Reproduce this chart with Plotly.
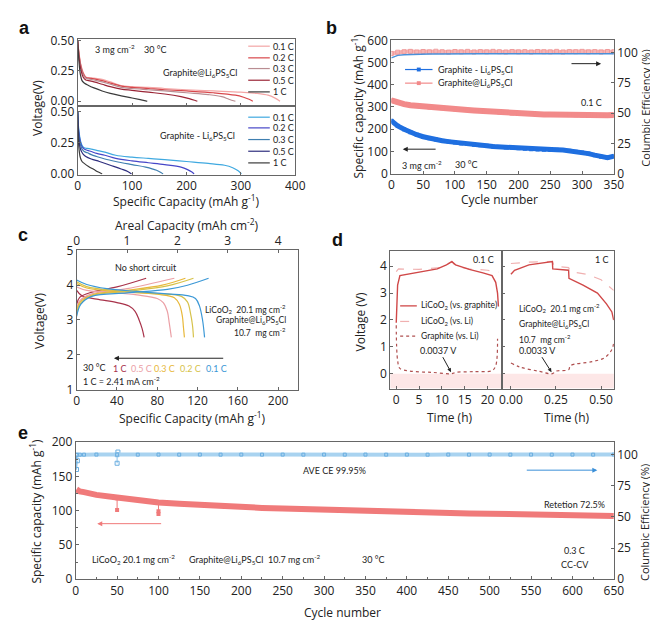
import plotly.graph_objects as go

W, H = 658, 622
def PX(x): return x / W
def PY(y): return 1 - y / H

# ---------------- Panel a data ----------------
a_rates = ["0.1 C", "0.2 C", "0.3 C", "0.5 C", "1 C"]
a_top_colors = ["#f3a5a5", "#d8474b", "#b98d92", "#9a2536", "#3b3b3b"]
a_bot_colors = ["#3fa9e0", "#4646c8", "#3f7fb0", "#2e2e7e", "#3b3b3b"]

a_top_x = [
    [0, 3, 6, 10, 15, 20, 30, 45, 60, 80, 100, 130, 160, 200, 250, 300, 330, 350, 362, 372],
    [0, 3, 6, 10, 15, 20, 30, 45, 60, 80, 100, 130, 160, 200, 250, 290, 305, 315, 322],
    [0, 3, 6, 10, 15, 20, 30, 45, 60, 80, 100, 130, 160, 200, 240, 265, 278, 290],
    [0, 3, 6, 10, 15, 20, 30, 45, 60, 80, 100, 130, 160, 190, 205, 215, 220],
    [0, 2, 5, 8, 12, 20, 30, 45, 60, 80, 100, 115, 125, 128],
]
a_top_y = [
    [0.5, 0.38, 0.3, 0.24, 0.2, 0.195, 0.19, 0.18, 0.16, 0.13, 0.12, 0.115, 0.105, 0.095, 0.085, 0.075, 0.065, 0.05, 0.028, 0.0],
    [0.5, 0.37, 0.29, 0.23, 0.195, 0.19, 0.185, 0.17, 0.15, 0.125, 0.115, 0.105, 0.095, 0.085, 0.07, 0.05, 0.033, 0.016, 0.0],
    [0.5, 0.36, 0.28, 0.22, 0.19, 0.185, 0.175, 0.16, 0.14, 0.115, 0.105, 0.095, 0.085, 0.07, 0.055, 0.038, 0.017, 0.0],
    [0.5, 0.34, 0.26, 0.2, 0.175, 0.17, 0.16, 0.14, 0.12, 0.1, 0.09, 0.075, 0.06, 0.038, 0.022, 0.008, 0.0],
    [0.5, 0.35, 0.22, 0.17, 0.15, 0.13, 0.11, 0.085, 0.065, 0.045, 0.027, 0.013, 0.003, 0.0],
]
a_bot_x = [
    [0, 2, 5, 8, 12, 18, 25, 35, 50, 70, 100, 130, 160, 200, 240, 270, 285, 295, 301],
    [0, 2, 5, 8, 12, 18, 25, 35, 50, 70, 100, 130, 160, 190, 202, 210, 214],
    [0, 2, 5, 8, 12, 18, 25, 35, 50, 70, 100, 125, 145, 153, 157],
    [0, 2, 4, 7, 10, 15, 25, 40, 60, 80, 92, 99],
    [0, 1, 3, 5, 8, 12, 20, 30, 38, 45],
]
a_bot_y = [
    [0.5, 0.36, 0.27, 0.23, 0.21, 0.205, 0.2, 0.19, 0.175, 0.15, 0.135, 0.125, 0.115, 0.1, 0.085, 0.07, 0.05, 0.025, 0.0],
    [0.5, 0.34, 0.26, 0.22, 0.2, 0.19, 0.18, 0.165, 0.15, 0.125, 0.105, 0.09, 0.075, 0.055, 0.035, 0.015, 0.0],
    [0.5, 0.32, 0.24, 0.2, 0.18, 0.17, 0.155, 0.14, 0.12, 0.1, 0.075, 0.055, 0.03, 0.012, 0.0],
    [0.5, 0.3, 0.22, 0.18, 0.16, 0.14, 0.12, 0.1, 0.07, 0.04, 0.02, 0.0],
    [0.5, 0.3, 0.18, 0.13, 0.1, 0.085, 0.06, 0.035, 0.015, 0.0],
]

# ---------------- Panel b data ----------------
b_cycles = [0, 10, 20, 30, 40, 50, 60, 70, 80, 90, 100, 110, 120, 130, 140, 150, 160, 170,
            180, 190, 200, 210, 220, 230, 240, 250, 260, 270, 280, 290, 300, 310, 320, 330, 340, 350]
b_cap_blue = [238, 215, 200, 186, 175, 166, 159, 153, 148, 144, 140, 136, 133, 130, 128, 125, 122, 120,
              118, 116, 114, 112, 110, 108, 107, 106, 107, 106, 103, 98, 95, 90, 83, 76, 72, 78]
b_cap_red = [330, 320, 313, 308, 305, 301, 298, 296, 294, 292, 290, 288, 286, 284, 282, 280, 277, 275,
             273, 271, 270, 269, 268, 267, 266, 266, 265, 265, 264, 263, 262, 262, 263, 263, 263, 264]
b_ce_blue = [95.5, 97.6, 98.2, 98.5, 98.6, 98.7, 98.8, 98.8, 98.9, 98.9, 98.9, 98.9, 99.0, 98.9, 99.0, 98.9, 99.0, 98.9,
             99.0, 98.9, 99.0, 99.0, 98.9, 99.0, 99.0, 98.9, 99.0, 99.0, 98.9, 99.0, 98.9, 99.0, 99.0, 98.9, 99.0, 98.9]
b_ce_red = [99.2, 100.2, 100.6, 100.9, 100.4, 100.8, 100.5, 101.0, 100.6, 100.3, 100.8, 100.5, 100.9, 100.4, 100.7, 100.5, 100.9, 100.6,
            100.4, 100.8, 100.5, 100.7, 100.4, 100.8, 100.6, 100.5, 100.9, 100.4, 100.7, 100.6, 100.9, 100.5, 100.7, 100.4, 100.8, 100.6]

# ---------------- Panel c data ----------------
c_rates = ["1 C", "0.5 C", "0.3 C", "0.2 C", "0.1 C"]
c_colors = ["#a8324a", "#eba0a6", "#e8b83a", "#d6c24a", "#3b98d6"]
c_dis_x = [
    [0, 5, 20, 40, 52, 58, 62, 65, 67],
    [0, 10, 30, 60, 80, 86, 90, 92, 94],
    [0, 10, 40, 80, 97, 102, 105, 106, 107],
    [0, 10, 40, 80, 104, 110, 113, 115, 116],
    [0, 10, 30, 60, 90, 110, 118, 122, 125, 127],
]
c_dis_y = [
    [3.85, 3.7, 3.6, 3.5, 3.4, 3.25, 3.0, 2.75, 2.5],
    [3.95, 3.85, 3.8, 3.72, 3.62, 3.5, 3.25, 2.9, 2.5],
    [4.05, 3.92, 3.82, 3.74, 3.64, 3.45, 3.1, 2.8, 2.5],
    [4.1, 3.96, 3.84, 3.76, 3.68, 3.52, 3.2, 2.85, 2.5],
    [4.15, 4.02, 3.9, 3.82, 3.75, 3.7, 3.62, 3.4, 3.0, 2.5],
]
c_chg_x = [
    [0, 3, 15, 40, 69],
    [0, 3, 15, 50, 97],
    [0, 3, 15, 50, 85, 108],
    [0, 3, 15, 50, 90, 116],
    [0, 4, 15, 50, 90, 110, 131],
]
c_chg_y = [
    [3.45, 3.65, 3.8, 3.95, 4.2],
    [3.3, 3.55, 3.75, 3.9, 4.2],
    [3.2, 3.5, 3.72, 3.85, 4.0, 4.2],
    [3.15, 3.45, 3.7, 3.82, 3.98, 4.2],
    [3.1, 3.45, 3.68, 3.78, 3.88, 4.0, 4.2],
]

# ---------------- Panel d data ----------------
d1_t = [0, 0.3, 0.8, 3, 6, 9, 11, 12.2, 13, 16, 19, 21, 21.8, 22.2, 22.4]
d1_full = [1.9, 3.3, 3.65, 3.72, 3.8, 3.9, 4.05, 4.17, 4.05, 3.88, 3.75, 3.65, 3.4, 3.0, 2.5]
d1_tl = [0, 0.5, 5, 10, 12.2, 13, 16, 20, 22.4]
d1_li = [3.8, 3.9, 3.88, 3.95, 4.18, 4.0, 3.9, 3.85, 3.78]
d1_tg = [0, 0.3, 0.8, 3, 8, 12.2, 13, 17, 21, 21.8, 22.2]
d1_gr = [1.8, 0.5, 0.2, 0.1, 0.05, 0.0037, 0.05, 0.08, 0.12, 0.3, 1.3]

d2_t = [0, 0.02, 0.1, 0.23, 0.232, 0.32, 0.322, 0.4, 0.48, 0.53, 0.56, 0.57]
d2_full = [3.7, 3.85, 4.05, 4.17, 3.9, 3.85, 3.55, 3.3, 3.0, 2.6, 2.3, 2.0]
d2_tl = [0, 0.1, 0.23, 0.24, 0.32, 0.33, 0.42, 0.5, 0.57]
d2_li = [4.1, 4.15, 4.18, 4.0, 3.95, 3.8, 3.7, 3.5, 3.1]
d2_tg = [0, 0.05, 0.15, 0.23, 0.25, 0.32, 0.33, 0.45, 0.52, 0.56, 0.57]
d2_gr = [0.4, 0.25, 0.1, 0.0033, 0.1, 0.15, 0.3, 0.45, 0.6, 0.9, 1.15]

# ---------------- Panel e data ----------------
e_cycles = [1, 5, 10, 25, 50, 75, 100, 125, 150, 175, 200, 225, 250, 275, 300, 325,
            350, 375, 400, 425, 450, 475, 500, 525, 550, 575, 600, 625, 650]
e_cap = [131, 128, 127, 123, 119, 115, 112, 110, 108, 107, 105, 104, 103, 102, 101, 100,
         99, 98.5, 98, 97, 96.5, 96, 95.5, 95, 94.5, 94, 93.5, 92.5, 92]
e_ce = [99.6, 99.9, 99.9, 99.95, 99.9, 99.9, 99.95, 99.9, 99.95, 99.9, 99.95, 99.9, 99.95,
        99.9, 99.95, 99.9, 99.95, 99.9, 99.95, 99.9, 99.95, 99.9, 99.95, 99.9, 99.95, 99.9, 99.95, 99.9, 99.95]
# outlier cycles (interrupted tests)
e_out_cycles = [50, 50, None, 100, 100, 100]
e_out_cap = [118, 101, None, 111, 99, 95]
e_out_ce_cycles = [1, 1, 2, None, 50, 50, 51]
e_out_ce = [99.6, 88, 95, None, 93, 99.9, 102]

# ---------------- Figure ----------------
TICKF = dict(family="Open Sans", size=12, color="#222")
SMALL = "Lato"
LC = "#666"

def ax(**kw):
    d = dict(showline=True, mirror=True, linecolor=LC, linewidth=1, ticks="inside", ticklen=3,
             tickcolor=LC, showgrid=False, zeroline=False, tickfont=TICKF)
    d.update(kw)
    return d

fig = go.Figure()

# panel a
for i in range(5):
    fig.add_trace(go.Scatter(x=a_top_x[i], y=a_top_y[i], mode="lines", line=dict(color=a_top_colors[i], width=1.2, shape="spline"),
                             xaxis="x", yaxis="y", showlegend=False))
    fig.add_trace(go.Scatter(x=a_bot_x[i], y=a_bot_y[i], mode="lines", line=dict(color=a_bot_colors[i], width=1.2, shape="spline"),
                             xaxis="x2", yaxis="y2", showlegend=False))

# panel b
fig.add_trace(go.Scatter(x=b_cycles, y=b_ce_red, mode="lines+markers", xaxis="x3", yaxis="y4",
                         line=dict(color="#f6b4b4", width=4), marker=dict(symbol="square-open", size=4, color="#f09a9a"), showlegend=False))
fig.add_trace(go.Scatter(x=b_cycles, y=b_ce_blue, mode="lines", xaxis="x3", yaxis="y4",
                         line=dict(color="#4a90d9", width=1.5), showlegend=False))
fig.add_trace(go.Scatter(x=b_cycles, y=b_cap_red, mode="lines+markers", xaxis="x3", yaxis="y3",
                         line=dict(color="#f28a8a", width=6), marker=dict(symbol="square", size=4, color="#f28a8a"), showlegend=False))
fig.add_trace(go.Scatter(x=b_cycles, y=b_cap_blue, mode="lines+markers", xaxis="x3", yaxis="y3",
                         line=dict(color="#1f6fe0", width=5), marker=dict(symbol="square", size=4, color="#1f6fe0"), showlegend=False))

# panel c
for i in range(5):
    fig.add_trace(go.Scatter(x=c_dis_x[i], y=c_dis_y[i], mode="lines", line=dict(color=c_colors[i], width=1.2, shape="spline"),
                             xaxis="x4", yaxis="y5", showlegend=False))
    fig.add_trace(go.Scatter(x=c_chg_x[i], y=c_chg_y[i], mode="lines", line=dict(color=c_colors[i], width=1.2, shape="spline"),
                             xaxis="x4", yaxis="y5", showlegend=False))
fig.add_trace(go.Scatter(x=[0, 4.4], y=[None, None], mode="lines", xaxis="x5", yaxis="y5", showlegend=False, hoverinfo="skip"))

# panel d
DRED = "#d04848"
for (t, v, tl, vl, tg, vg, xa, ya) in [(d1_t, d1_full, d1_tl, d1_li, d1_tg, d1_gr, "x6", "y6"),
                                        (d2_t, d2_full, d2_tl, d2_li, d2_tg, d2_gr, "x7", "y7")]:
    fig.add_trace(go.Scatter(x=tl, y=vl, mode="lines", line=dict(color="#f0b0b0", width=1.2, dash="dash"),
                             xaxis=xa, yaxis=ya, showlegend=False))
    fig.add_trace(go.Scatter(x=tg, y=vg, mode="lines", line=dict(color="#b05050", width=1.2, dash="dot", shape="spline"),
                             xaxis=xa, yaxis=ya, showlegend=False))
    fig.add_trace(go.Scatter(x=t, y=v, mode="lines", line=dict(color=DRED, width=1.4),
                             xaxis=xa, yaxis=ya, showlegend=False))

# panel e
fig.add_trace(go.Scatter(x=e_out_ce_cycles, y=e_out_ce, mode="lines+markers", xaxis="x8", yaxis="y9",
                         line=dict(color="#8cc2ea", width=1), marker=dict(symbol="square-open", size=4, color="#6aaee0"), showlegend=False))
fig.add_trace(go.Scatter(x=e_cycles, y=e_ce, mode="lines+markers", xaxis="x8", yaxis="y9",
                         line=dict(color="#a9d3f0", width=4), marker=dict(symbol="square-open", size=3, color="#6aaee0"), showlegend=False))
fig.add_trace(go.Scatter(x=e_out_cycles, y=e_out_cap, mode="lines+markers", xaxis="x8", yaxis="y8",
                         line=dict(color="#f07a7a", width=1), marker=dict(symbol="square", size=4, color="#f07a7a"), showlegend=False))
fig.add_trace(go.Scatter(x=e_cycles, y=e_cap, mode="lines", xaxis="x8", yaxis="y8",
                         line=dict(color="#f07a7a", width=6), showlegend=False))

fig.update_layout(
    width=W, height=H, margin=dict(l=0, r=0, t=0, b=0), plot_bgcolor="white", paper_bgcolor="white",
    # a
    xaxis=ax(domain=[PX(68), PX(290)], range=[0, 400], dtick=100, showticklabels=False, anchor="y"),
    yaxis=ax(domain=[PY(91), PY(23)], range=[-0.035, 0.51], tickvals=[0, 0.25, 0.5], tickformat=".2f", anchor="x"),
    xaxis2=ax(domain=[PX(68), PX(290)], range=[0, 400], dtick=100, anchor="y2"),
    yaxis2=ax(domain=[PY(162), PY(91)], range=[-0.005, 0.55], tickvals=[0, 0.25, 0.5], tickformat=".2f", anchor="x2"),
    # b
    xaxis3=ax(domain=[PX(388), PX(615)], range=[0, 350], dtick=50, anchor="y3"),
    yaxis3=ax(domain=[PY(161), PY(24)], range=[0, 600], dtick=100, anchor="x3"),
    yaxis4=ax(range=[0, 110], tickvals=[0, 25, 50, 75, 100], overlaying="y3", side="right", anchor="x3", mirror=False),
    # c
    xaxis4=ax(domain=[PX(67), PX(293)], range=[0, 220], dtick=40, anchor="y5"),
    xaxis5=ax(range=[0, 4.4], dtick=1, overlaying="x4", side="top", anchor="y5", mirror=False),
    yaxis5=ax(domain=[PY(383), PY(240)], range=[1, 5], dtick=1, anchor="x4"),
    # d
    xaxis6=ax(domain=[PX(387), PX(501)], range=[-1.29, 23.2], dtick=5, anchor="y6"),
    yaxis6=ax(domain=[PY(382), PY(241)], range=[-0.55, 4.55], dtick=1, anchor="x6"),
    xaxis7=ax(domain=[PX(501), PX(615)], range=[-0.049, 0.571], tickvals=[0, 0.25, 0.5], tickformat=".2f", anchor="y7"),
    yaxis7=ax(domain=[PY(382), PY(241)], range=[-0.55, 4.55], dtick=1, showticklabels=False, anchor="x7"),
    # e
    xaxis8=ax(domain=[PX(66), PX(615)], range=[0, 650], dtick=50, anchor="y8",
              minor=dict(ticks="inside", ticklen=2, tickcolor=LC, dtick=25)),
    yaxis8=ax(domain=[PY(578), PY(437)], range=[0, 200], dtick=50, anchor="x8",
              minor=dict(ticks="inside", ticklen=2, tickcolor=LC, dtick=25)),
    yaxis9=ax(range=[0, 110], tickvals=[0, 25, 50, 75, 100], overlaying="y8", side="right", anchor="x8", mirror=False),
)

anns = []
def T(text, x, y, size=9, xa="center", color="#222", fam=SMALL, angle=0, bold=False):
    anns.append(dict(text=("<b>%s</b>" % text) if bold else text, x=PX(x), y=PY(y), xref="paper", yref="paper",
                     xanchor=xa, yanchor="middle", showarrow=False, textangle=angle,
                     font=dict(family=fam, size=size, color=color)))

TF = "Open Sans"
TS = 12
# panel labels
T("a", 14, 11, 18, fam="Arial", bold=True, color="#111")
T("b", 327, 11, 18, fam="Arial", bold=True, color="#111")
T("c", 12, 224, 18, fam="Arial", bold=True, color="#111")
T("d", 333, 229, 18, fam="Arial", bold=True, color="#111")
T("e", 12, 428, 18, fam="Arial", bold=True, color="#111")

# axis titles
T("Voltage(V)", 27, 93, TS, fam=TF, angle=-90)
T("Specific Capacity (mAh g<sup>-1</sup>)", 179, 189, TS, fam=TF)
T("Specific capacity (mAh g<sup>-1</sup>)", 354, 92, TS, fam=TF, angle=-90)
T("Columbic Efficiency (%)", 647, 94, 11, fam=TF, angle=-90)
T("Cycle number", 498, 188, TS, fam=TF)
T("Areal Capacity (mAh cm<sup>-2</sup>)", 180, 214, TS, fam=TF)
T("Voltage(V)", 29, 312, TS, fam=TF, angle=-90)
T("Specific Capacity (mAh g<sup>-1</sup>)", 185, 412, TS, fam=TF)
T("Voltage (V)", 356, 313, TS, fam=TF, angle=-90)
T("Time (h)", 448, 412, TS, fam=TF)
T("Time (h)", 567, 412, TS, fam=TF)
T("Specific capacity (mAh g<sup>-1</sup>)", 26, 508, TS, fam=TF, angle=-90)
T("Columbic Efficiency (%)", 647, 520, 11, fam=TF, angle=-90)
T("Cycle number", 338, 612, TS, fam=TF)

# panel a texts
T("3 mg cm<sup>-2</sup>", 84, 33, 9, xa="left")
T("30 °C", 134, 33, 9, xa="left")
T("Graphite@Li<sub>6</sub>PS<sub>5</sub>Cl", 193, 58, 9)
T("Graphite - Li<sub>6</sub>PS<sub>5</sub>Cl", 190, 122, 9)

shapes = []
def L(x0, y0, x1, y1, color, width=1.2, dash="solid"):
    shapes.append(dict(type="line", xref="paper", yref="paper", x0=PX(x0), y0=PY(y0), x1=PX(x1), y1=PY(y1),
                       line=dict(color=color, width=width, dash=dash)))

for i, yy in enumerate([30, 42, 53, 65, 77]):
    L(242, yy, 264, yy, a_top_colors[i])
    T(a_rates[i], 265, yy, 9, xa="left")
for i, yy in enumerate([103, 114, 126, 138, 150]):
    L(242, yy, 264, yy, a_bot_colors[i])
    T(a_rates[i], 265, yy, 9, xa="left")

# panel b legend + texts
L(402, 54, 430, 54, "#1f6fe0", 1.2)
shapes.append(dict(type="rect", xref="paper", yref="paper", x0=PX(414), x1=PX(418), y0=PY(56), y1=PY(52),
                   fillcolor="#1f6fe0", line=dict(width=0)))
T("Graphite - Li<sub>6</sub>PS<sub>5</sub>Cl", 434, 54, 9, xa="left")
L(402, 68, 430, 68, "#f28a8a", 1.2)
shapes.append(dict(type="rect", xref="paper", yref="paper", x0=PX(414), x1=PX(418), y0=PY(70), y1=PY(66),
                   fillcolor="#f28a8a", line=dict(width=0)))
T("Graphite@Li<sub>6</sub>PS<sub>5</sub>Cl", 434, 68, 9, xa="left")
T("3 mg cm<sup>-2</sup>", 397, 152, 9, xa="left")
T("30 °C", 451, 152, 9, xa="left")
T("0.1 C", 592, 88, 9)

# panel c texts
T("No short circuit", 138, 258, 9)
T("LiCoO<sub>2</sub>  20.1 mg cm<sup>-2</sup>", 283, 300, 8.5, xa="right")
T("Graphite@Li<sub>6</sub>PS<sub>5</sub>Cl", 283, 312, 8.5, xa="right")
T("10.7  mg cm<sup>-2</sup>", 283, 324, 8.5, xa="right")
T("30 °C", 71, 360, 9, xa="left")
for lab, xx, col in zip(c_rates, [111, 133, 157, 183, 210], c_colors):
    T(lab, xx, 361, 9, color=col)
T("1 C = 2.41 mA cm<sup>-2</sup>", 71, 374, 9, xa="left")

# panel d legend + texts
L(397, 297, 414, 297, DRED, 1.3)
T("LiCoO<sub>2</sub> (vs. graphite)", 416, 297, 8.5, xa="left")
L(397, 313, 414, 313, "#f0b0b0", 1.2, "dash")
T("LiCoO<sub>2</sub> (vs. Li)", 416, 313, 8.5, xa="left")
L(397, 328, 414, 328, "#b05050", 1.2, "dot")
T("Graphite (vs. Li)", 416, 328, 8.5, xa="left")
T("0.1 C", 482, 249, 9)
T("1 C", 603, 249, 9)
T("LiCoO<sub>2</sub>  20.1 mg cm<sup>-2</sup>", 516, 299, 8.5, xa="left")
T("Graphite@Li<sub>6</sub>PS<sub>5</sub>Cl", 516, 316, 8.5, xa="left")
T("10.7  mg cm<sup>-2</sup>", 516, 331, 8.5, xa="left")

# pink shading in d
for xa, ya in [("x6", "y6"), ("x7", "y7")]:
    shapes.append(dict(type="rect", xref=xa + " domain", yref=ya, x0=0, x1=1, y0=-0.55, y1=0,
                       fillcolor="rgba(252,225,225,0.8)", line=dict(width=0), layer="below"))

# panel e texts
T("AVE CE 99.95%", 330, 466, 9)
T("Retetion 72.5%", 575, 501, 9)
T("0.3 C", 575, 549, 9)
T("CC-CV", 575, 563, 9)
T("30 °C", 356, 558, 9, xa="left")
T("LiCoO<sub>2</sub> 20.1 mg cm<sup>-2</sup>", 125, 558, 9)
T("Graphite@Li<sub>6</sub>PS<sub>5</sub>Cl  10.7 mg cm<sup>-2</sup>", 249, 558, 9)

# arrows (data coordinates)
def ARR(xh, yh, xt, yt, xa, ya, color):
    anns.append(dict(text="", x=xh, y=yh, ax=xt, ay=yt, xref=xa, yref=ya, axref=xa, ayref=ya,
                     showarrow=True, arrowhead=2, arrowsize=1, arrowwidth=1, arrowcolor=color))

ARR(18, 110, 72, 110, "x3", "y3", "#222")
ARR(330, 495, 281, 495, "x3", "y3", "#222")
ARR(37, 1.9, 147, 1.9, "x4", "y5", "#222")
ARR(26, 81, 105, 81, "x8", "y8", "#f07a7a")
ARR(630, 159, 543, 159, "x8", "y8", "#3a8fd8")

anns.append(dict(text="0.0037 V", x=12.0, y=0.06, xref="x6", yref="y6", ax=-12, ay=-22, showarrow=True,
                 arrowhead=2, arrowsize=0.8, arrowwidth=1, arrowcolor="#222", font=dict(family=SMALL, size=9, color="#222")))
anns.append(dict(text="0.0033 V", x=0.225, y=0.06, xref="x7", yref="y7", ax=-14, ay=-22, showarrow=True,
                 arrowhead=2, arrowsize=0.8, arrowwidth=1, arrowcolor="#222", font=dict(family=SMALL, size=9, color="#222")))

fig.update_layout(annotations=anns, shapes=shapes)
fig.write_html("out.html")
